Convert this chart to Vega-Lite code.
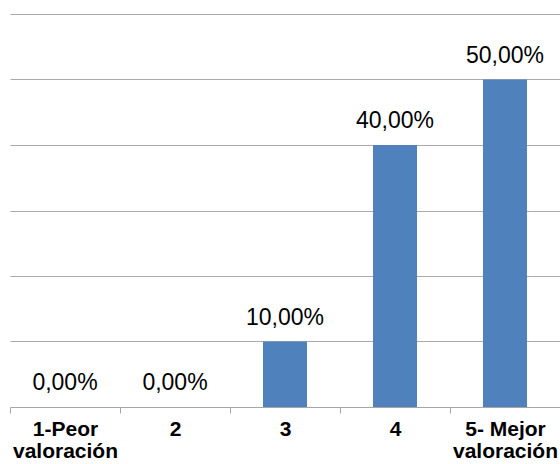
{
  "$schema": "https://vega.github.io/schema/vega-lite/v6.json",
  "width": 550,
  "height": 393,
  "autosize": {"type": "none"},
  "padding": {"left": 10, "top": 14, "right": 0, "bottom": 57},
  "background": "white",
  "config": {
    "view": {"stroke": null},
    "locale": {"number": {"decimal": ",", "thousands": ".", "grouping": [3], "currency": ["", " €"]}},
    "font": "Liberation Sans"
  },
  "data": {
    "values": [
      {"cat": "1-Peor valoración", "pct": 0.0},
      {"cat": "2", "pct": 0.0},
      {"cat": "3", "pct": 0.1},
      {"cat": "4", "pct": 0.4},
      {"cat": "5- Mejor valoración", "pct": 0.5}
    ]
  },
  "encoding": {
    "x": {
      "field": "cat",
      "type": "nominal",
      "sort": null,
      "scale": {"paddingInner": 0.6, "paddingOuter": 0.3},
      "axis": {
        "title": null,
        "labelAngle": 0,
        "bandPosition": 0.5,
        "tickOffset": -55,
        "labelOffset": 55,
        "labelExpr": "datum.label == '1-Peor valoración' ? ['1-Peor', 'valoración'] : datum.label == '5- Mejor valoración' ? ['5- Mejor', 'valoración'] : datum.label",
        "labelFont": "Liberation Sans",
        "labelFontSize": 21,
        "labelFontWeight": "bold",
        "labelColor": "black",
        "labelLineHeight": 22,
        "labelPadding": 5,
        "labelBound": false,
        "labelOverlap": false,
        "domainColor": "#a6a6a6",
        "tickColor": "#a6a6a6",
        "tickSize": 6,
        "grid": false
      }
    },
    "y": {
      "field": "pct",
      "type": "quantitative",
      "scale": {"domain": [0, 0.6], "nice": false},
      "axis": {
        "title": null,
        "labels": false,
        "ticks": false,
        "domain": false,
        "values": [0.1, 0.2, 0.3, 0.4, 0.5, 0.6],
        "grid": true,
        "gridColor": "#aaaaaa",
        "gridWidth": 1
      }
    }
  },
  "layer": [
    {"mark": {"type": "bar", "color": "#4F81BD"}},
    {
      "mark": {"type": "text", "font": "Liberation Sans", "fontSize": 23, "color": "black", "baseline": "alphabetic", "dy": -17},
      "encoding": {"text": {"field": "pct", "type": "quantitative", "format": ".2%"}}
    }
  ]
}
